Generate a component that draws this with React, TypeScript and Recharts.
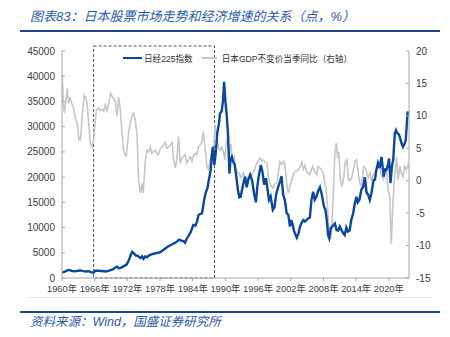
import React from "react";
import {
  LineChart,
  Line,
  XAxis,
  YAxis,
  ReferenceArea,
  Legend,
} from "recharts";

// 日经225指数 (points)
const nikkeiYears = [
  1960.0, 1960.6, 1961.2, 1961.9, 1962.5, 1963.0, 1963.4, 1963.9, 1964.3, 1964.85,
  1965.3, 1965.8, 1966.1, 1966.6, 1967.2, 1967.6, 1968.0, 1968.5, 1968.9, 1969.4,
  1969.8, 1970.1, 1970.4, 1970.8, 1971.2, 1971.6, 1971.9, 1972.3, 1972.6, 1972.9,
  1973.2, 1973.5, 1973.9, 1974.4, 1974.7, 1974.95, 1975.3, 1975.6, 1976.0, 1976.4,
  1976.8, 1977.2, 1977.6, 1978.0, 1978.4, 1978.9, 1979.4, 1979.9, 1980.4, 1980.8,
  1981.2, 1981.5, 1981.9, 1982.3, 1982.6, 1982.9, 1983.2, 1983.6, 1984.1, 1984.5,
  1984.8, 1985.05, 1985.4, 1985.7, 1986.1, 1986.4, 1986.7, 1986.9, 1987.3, 1987.5,
  1987.7, 1987.95, 1988.2, 1988.5, 1988.8, 1989.0, 1989.3, 1989.55, 1989.76, 1990.0,
  1990.26, 1990.5, 1990.73, 1990.95, 1991.17, 1991.45, 1991.7, 1992.0, 1992.3, 1992.55,
  1992.8, 1993.05, 1993.3, 1993.6, 1993.9, 1994.2, 1994.55, 1994.9, 1995.25, 1995.6,
  1995.85, 1996.1, 1996.5, 1996.8, 1997.1, 1997.45, 1997.8, 1998.0, 1998.3, 1998.7,
  1999.0, 1999.3, 1999.7, 2000.0, 2000.3, 2000.6, 2000.9, 2001.25, 2001.55, 2001.85,
  2002.1, 2002.3, 2002.6, 2002.9, 2003.1, 2003.4, 2003.7, 2004.0, 2004.3, 2004.6,
  2004.9, 2005.2, 2005.5, 2005.8, 2006.1, 2006.4, 2006.7, 2007.0, 2007.35, 2007.7,
  2008.1, 2008.35, 2008.6, 2008.85, 2009.05, 2009.35, 2009.7, 2010.1, 2010.4, 2010.7,
  2011.0, 2011.3, 2011.6, 2011.9, 2012.2, 2012.5, 2012.8, 2013.1, 2013.45, 2013.7,
  2014.05, 2014.3, 2014.6, 2014.95, 2015.3, 2015.6, 2015.9, 2016.2, 2016.5, 2016.8,
  2017.2, 2017.45, 2017.7, 2018.0, 2018.3, 2018.65, 2019.05, 2019.3, 2019.55, 2019.85,
  2020.05, 2020.3, 2020.55, 2020.8, 2021.1, 2021.3, 2021.5, 2021.8, 2022.0, 2022.3,
  2022.6, 2022.85, 2023.1, 2023.45, 2023.7,
];
const nikkeiValues = [
  1050, 1300, 1600, 1400, 1350, 1450, 1500, 1350, 1300, 1350,
  1150, 1050, 1450, 1450, 1400, 1350, 1280, 1400, 1550, 1750,
  2100, 2250, 1950, 2000, 2250, 2500, 2700, 3600, 4500, 5200,
  4900, 4500, 4400, 3950, 4300, 3800, 4300, 4100, 4500, 4700,
  4800, 4900, 5000, 5100, 5400, 5800, 6200, 6500, 6800, 7000,
  7300, 7600, 7400, 7300, 7000, 7800, 8300, 9000, 10500, 10400,
  11200, 12500, 12700, 12800, 15500, 17000, 17800, 19100, 21400, 24500,
  26000, 22400, 24500, 28700, 30500, 32600, 33000, 35000, 38900, 35000,
  32000, 28000, 20700, 23500, 24000, 23000, 22500, 20100, 17400, 16000,
  16100, 17500, 18800, 20100, 18000, 19500, 20500, 19300, 16800, 15000,
  18000, 20100, 22400, 21000, 18500, 19800, 17000, 15500, 16200, 13500,
  14000, 16500, 18100, 19000, 20200, 16500, 15500, 12800, 12500, 10200,
  11500, 10800, 9300, 8500, 8000, 8800, 10200, 11000, 11500, 11200,
  11500, 11800, 12000, 15500, 17100, 15500, 16100, 17200, 18000, 16500,
  14100, 13600, 11500, 8500, 7900, 9900, 10300, 10800, 9500, 9400,
  10200, 9500, 8900, 8500, 10000, 9200, 9400, 11500, 12800, 14500,
  16100, 15000, 15500, 17500, 18100, 20000, 17000, 16500, 15500, 16800,
  19400, 19500, 21400, 22800, 21800, 24000, 20100, 21500, 21400, 22500,
  23700, 18800, 22000, 23400, 28700, 29300, 28800, 28500, 28000, 26800,
  26000, 26500, 27300, 33000, 32200,
];

// 日本GDP不变价当季同比 (%)
const gdpYears = [
  1960.0, 1960.3, 1960.45, 1960.95, 1961.2, 1961.45, 1961.75, 1962.05, 1962.5, 1962.8,
  1963.1, 1963.4, 1963.7, 1964.1, 1964.35, 1964.6, 1964.9, 1965.2, 1965.5, 1965.8,
  1966.3, 1966.7, 1967.0, 1967.35, 1967.65, 1967.95, 1968.3, 1968.6, 1968.9, 1969.2,
  1969.5, 1969.8, 1970.1, 1970.4, 1970.7, 1971.0, 1971.3, 1971.8, 1972.2, 1972.5,
  1972.85, 1973.15, 1973.45, 1973.8, 1974.05, 1974.4, 1974.7, 1974.9, 1975.3, 1975.6,
  1975.9, 1976.2, 1976.5, 1976.8, 1977.1, 1977.4, 1977.7, 1978.0, 1978.35, 1978.65,
  1978.95, 1979.25, 1979.55, 1979.85, 1980.2, 1980.5, 1980.8, 1981.1, 1981.4, 1981.7,
  1982.0, 1982.3, 1982.6, 1982.9, 1983.25, 1983.55, 1983.85, 1984.15, 1984.45, 1984.75,
  1985.05, 1985.35, 1985.65, 1985.95, 1986.3, 1986.6, 1986.9, 1987.2, 1987.5, 1987.8,
  1988.1, 1988.4, 1988.7, 1989.0, 1989.35, 1989.65, 1989.9, 1990.1, 1990.4, 1990.7,
  1991.0, 1991.3, 1991.6, 1991.9, 1992.2, 1992.55, 1992.8, 1993.05, 1993.3, 1993.6,
  1993.9, 1994.2, 1994.5, 1994.8, 1995.1, 1995.45, 1995.75, 1996.05, 1996.35, 1996.65,
  1996.95, 1997.3, 1997.6, 1997.9, 1998.2, 1998.45, 1998.7, 1999.0, 1999.25, 1999.5,
  1999.75, 2000.0, 2000.25, 2000.5, 2000.75, 2000.95, 2001.25, 2001.55, 2001.85, 2002.15,
  2002.45, 2002.75, 2003.1, 2003.4, 2003.7, 2004.0, 2004.3, 2004.6, 2004.9, 2005.2,
  2005.5, 2005.75, 2006.0, 2006.4, 2006.75, 2007.0, 2007.3, 2007.65, 2007.95, 2008.25,
  2008.5, 2008.7, 2008.9, 2009.05, 2009.35, 2009.6, 2009.85, 2010.1, 2010.35, 2010.6,
  2010.8, 2011.1, 2011.4, 2011.7, 2012.0, 2012.3, 2012.6, 2012.9, 2013.2, 2013.45,
  2013.75, 2014.05, 2014.35, 2014.65, 2014.95, 2015.2, 2015.4, 2015.75, 2016.2, 2016.5,
  2016.8, 2017.1, 2017.4, 2017.8, 2018.1, 2018.3, 2018.55, 2018.8, 2019.05, 2019.25,
  2019.55, 2019.85, 2020.15, 2020.45, 2020.75, 2020.95, 2021.4, 2021.7, 2022.0, 2022.3,
  2022.6, 2022.9, 2023.2, 2023.5, 2023.7,
];
const gdpValues = [
  16.5, 11.4, 10.4, 14.2, 11.9, 12.9, 12.0, 11.4, 9.4, 8.9,
  6.3, 6.3, 9.9, 13.2, 12.8, 12.0, 8.8, 5.8, 5.2, 6.3,
  10.9, 11.2, 10.8, 11.0, 10.7, 11.7, 10.8, 12.0, 13.5, 13.0,
  12.6, 12.2, 9.9, 12.9, 11.0, 7.5, 4.7, 3.7, 7.3, 8.8,
  9.9, 10.4, 9.4, 6.8, 0.1, -1.9, -0.4, -1.9, 3.2, 4.7,
  4.4, 5.2, 4.2, 4.5, 4.7, 4.2, 4.0, 4.8, 5.2, 5.5,
  5.9, 5.0, 5.2, 5.5, 5.9, 3.2, 2.0, 3.5, 6.8, 2.7,
  3.5, 3.7, 4.0, 2.7, 3.3, 3.7, 3.0, 3.9, 4.2, 4.0,
  5.2, 5.5, 5.9, 7.6, 4.7, 2.2, 1.7, 3.2, 4.2, 4.7,
  8.6, 6.8, 5.2, 4.7, 5.2, 4.4, 3.2, 5.5, 6.8, 3.7,
  5.7, 3.2, 3.7, 1.7, 1.2, 1.2, 0.5, 0.7, 1.2, 0.6,
  0.1, 0.6, 0.9, 0.8, 1.2, 2.0, 2.7, 3.1, 3.5, 3.0,
  3.2, 2.9, 2.7, 0.6, -0.4, -0.9, -1.2, -0.6, -0.4, 0.0,
  1.5, 2.9, 2.5, 2.7, 3.0, 2.2, -0.4, -1.9, -1.0, 0.1,
  0.9, 1.4, 1.5, 1.7, 2.2, 2.9, 1.7, 2.4, 1.4, 1.2,
  0.9, 1.6, 2.2, 1.5, 0.9, 2.2, 2.0, 1.7, 1.2, -0.4,
  -1.5, -3.5, -6.0, -7.6, -9.1, -6.0, -1.0, 4.5, 5.8, 3.5,
  4.5, 0.1, -0.9, 0.5, 2.9, 3.2, 0.1, 0.0, 0.5, 1.5,
  2.9, 3.2, 1.4, -0.4, -0.8, 0.8, 2.2, 1.9, 0.4, 1.2,
  0.1, 0.8, 1.2, 1.9, 2.2, 2.7, 1.0, 0.6, 0.2, 1.2,
  1.7, -1.4, -2.4, -9.7, -3.5, -0.4, 3.7, 0.1, 2.2, 1.2,
  0.6, 2.2, 1.7, 2.4, 1.8,
];

const yearTicks = [1960, 1966, 1972, 1978, 1984, 1990, 1996, 2002, 2008, 2014, 2020];
const leftTicks = [0, 5000, 10000, 15000, 20000, 25000, 30000, 35000, 40000, 45000];
const rightTicks = [-15, -10, -5, 0, 5, 10, 15, 20];

const nikkeiData = nikkeiYears.map((t, i) => ({ t, v: nikkeiValues[i] }));
const gdpData = gdpYears.map((t, i) => ({ t, v: gdpValues[i] }));

const BLUE = "#0b47a1";
const GREY = "#c6c6c6";
const TITLE_BLUE = "#2b5cab";
const FONT = "'Liberation Sans', 'Noto Sans CJK SC', Arial, sans-serif";
const tickStyle = { fontSize: 10, fill: "#404040", fontFamily: FONT };

function LegendBox() {
  return (
    <div style={{ display: "flex", alignItems: "center", fontSize: 8.6, color: "#333", fontFamily: FONT, whiteSpace: "nowrap" }}>
      <span style={{ display: "inline-block", width: 19, height: 2.5, background: BLUE, marginRight: 2 }} />
      <span>日经225指数</span>
      <span style={{ display: "inline-block", width: 15, height: 1.5, background: GREY, marginLeft: 9, marginRight: 5 }} />
      <span>日本GDP不变价当季同比（右轴）</span>
    </div>
  );
}

export default function App() {
  return (
    <div style={{ position: "absolute", left: 0, top: 0, width: 450, height: 337, background: "#fff", fontFamily: FONT }}>
      <div
        style={{
          position: "absolute", left: 30, top: 8, fontSize: 13, fontStyle: "italic",
          color: TITLE_BLUE, whiteSpace: "nowrap", lineHeight: "18px",
        }}
      >
        图表83：日本股票市场走势和经济增速的关系（点，%）
      </div>
      <div style={{ position: "absolute", left: 20, top: 30, width: 420, height: 1.5, background: "#1f4391" }} />

      <LineChart width={450} height={337} margin={{ top: 51, right: 0, bottom: 39, left: 0 }}>
        <XAxis
          dataKey="t"
          type="number"
          domain={[1960, 2023.7]}
          ticks={yearTicks}
          interval={0}
          tickFormatter={(v) => `${v}年`}
          tick={{ ...tickStyle, fontSize: 9.3 }}
          stroke="#a6a6a6"
          tickSize={3}
          tickMargin={4}
          height={20}
          allowDataOverflow
        />
        <YAxis
          yAxisId="left"
          domain={[0, 45000]}
          ticks={leftTicks}
          tick={tickStyle}
          stroke="#a6a6a6"
          width={62}
          tickSize={-3}
          tickMargin={10}
          interval={0}
        />
        <YAxis
          yAxisId="right"
          orientation="right"
          domain={[-15, 20]}
          ticks={rightTicks}
          tick={tickStyle}
          stroke="#a6a6a6"
          width={41}
          tickSize={-3}
          tickMargin={10}
          interval={0}
        />
        <ReferenceArea
          yAxisId="left"
          x1={1965.8}
          x2={1988}
          y1={0}
          y2={46000}
          ifOverflow="visible"
          fill="none"
          stroke="#44546a"
          strokeDasharray="3 2"
          strokeWidth={1}
        />
        <Legend
          verticalAlign="middle"
          align="center"
          layout="horizontal"
          content={() => <LegendBox />}
          wrapperStyle={{ position: "absolute", left: 123, top: 52, width: 260, height: 12 }}
        />
        <Line
          yAxisId="right"
          data={gdpData}
          dataKey="v"
          type="linear"
          stroke={GREY}
          strokeWidth={1.6}
          dot={false}
          isAnimationActive={false}
        />
        <Line
          yAxisId="left"
          data={nikkeiData}
          dataKey="v"
          type="linear"
          stroke={BLUE}
          strokeWidth={2.4}
          dot={false}
          isAnimationActive={false}
        />
      </LineChart>

      <div style={{ position: "absolute", left: 28, top: 297, width: 404, height: 1, background: "#e6e6e6" }} />
      <div style={{ position: "absolute", left: 20, top: 311, width: 420, height: 1.5, background: "#1f4391" }} />
      <div
        style={{
          position: "absolute", left: 30, top: 314, fontSize: 12.5, fontStyle: "italic",
          color: TITLE_BLUE, whiteSpace: "nowrap", lineHeight: "17px",
        }}
      >
        资料来源：Wind，国盛证券研究所
      </div>
    </div>
  );
}
